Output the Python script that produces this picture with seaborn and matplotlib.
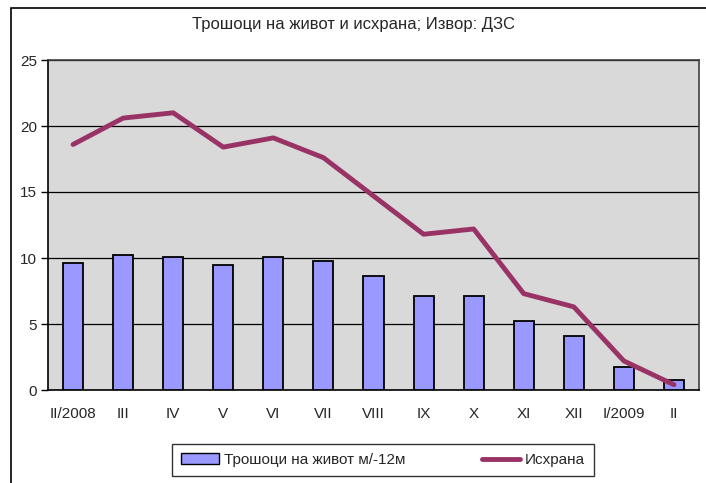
import numpy as np
import matplotlib
matplotlib.use("Agg")
import matplotlib.pyplot as plt
import seaborn as sns
from matplotlib.patches import Rectangle, Patch
from matplotlib.lines import Line2D

sns.set_style("white")
plt.rcParams['font.family'] = ['Liberation Sans Narrow', 'Liberation Sans', 'DejaVu Sans']

months = ["II/2008", "III", "IV", "V", "VI", "VII", "VIII", "IX", "X", "XI", "XII", "I/2009", "II"]
cost_of_living = [9.6, 10.2, 10.1, 9.5, 10.1, 9.75, 8.6, 7.1, 7.1, 5.2, 4.1, 1.75, 0.75]
food = [18.6, 20.6, 21.0, 18.4, 19.1, 17.6, 14.7, 11.8, 12.2, 7.3, 6.3, 2.2, 0.4]

bar_label = "Трошоци на живот м/-12м"
line_label = "Исхрана"
title = "Трошоци на живот и исхрана; Извор: ДЗС"

bar_color = "#9999FF"
line_color = "#993366"

fig = plt.figure(figsize=(7.06, 4.83), dpi=100)
ax = fig.add_axes([48/706, 1-390/483, 651/706, 330/483])
ax.set_facecolor("#D9D9D9")

sns.barplot(x=months, y=cost_of_living, color=bar_color, edgecolor="black",
            linewidth=1.3, width=0.4, saturation=1, ax=ax, zorder=3)
sns.lineplot(x=np.arange(len(months)), y=food, color=line_color, linewidth=3.5, ax=ax, zorder=4)

ax.set_xlim(-0.5, len(months) - 0.5)
ax.set_ylim(0, 25)
ax.set_yticks([0, 5, 10, 15, 20, 25])
ax.yaxis.grid(True, color="black", linewidth=0.9, zorder=0)
ax.set_axisbelow(True)

ax.set_xticks(np.arange(len(months)))
ax.set_xticklabels(months)
ax.set_xticks(np.arange(len(months) + 1) - 0.5, minor=True)
ax.tick_params(axis="x", which="major", length=0, pad=12, labelsize=11)
ax.tick_params(axis="x", which="minor", length=5, direction="out", color="black", width=1)
ax.tick_params(axis="y", length=5, direction="out", color="black", width=1, labelsize=11, pad=3, left=True)

for side in ["left", "bottom"]:
    ax.spines[side].set_color("black")
    ax.spines[side].set_linewidth(1.2)
for side in ["top", "right"]:
    ax.spines[side].set_color("#404040")
    ax.spines[side].set_linewidth(1.2)

fig.text(0.5, 1 - 25/483, title, ha="center", va="center", fontsize=12)

# outer chart frame
fig.patches.append(Rectangle((11/706, -0.05), 1.1, 1 - 8/483 + 0.05, transform=fig.transFigure,
                             fill=False, edgecolor="black", linewidth=1.2))

handles = [Patch(facecolor=bar_color, edgecolor="black", linewidth=1),
           Line2D([0], [0], color=line_color, linewidth=3.5)]
fig.legend(handles, [bar_label, line_label], loc="center", bbox_to_anchor=(383/706, 1 - 460/483),
           ncol=2, frameon=True, fancybox=False, edgecolor="black", fontsize=11,
           columnspacing=5, handlelength=2.5, handletextpad=0.3, borderpad=0.6)
leg = fig.legends[0]
leg.get_frame().set_linewidth(1)

fig.savefig("out.png", dpi=100)
